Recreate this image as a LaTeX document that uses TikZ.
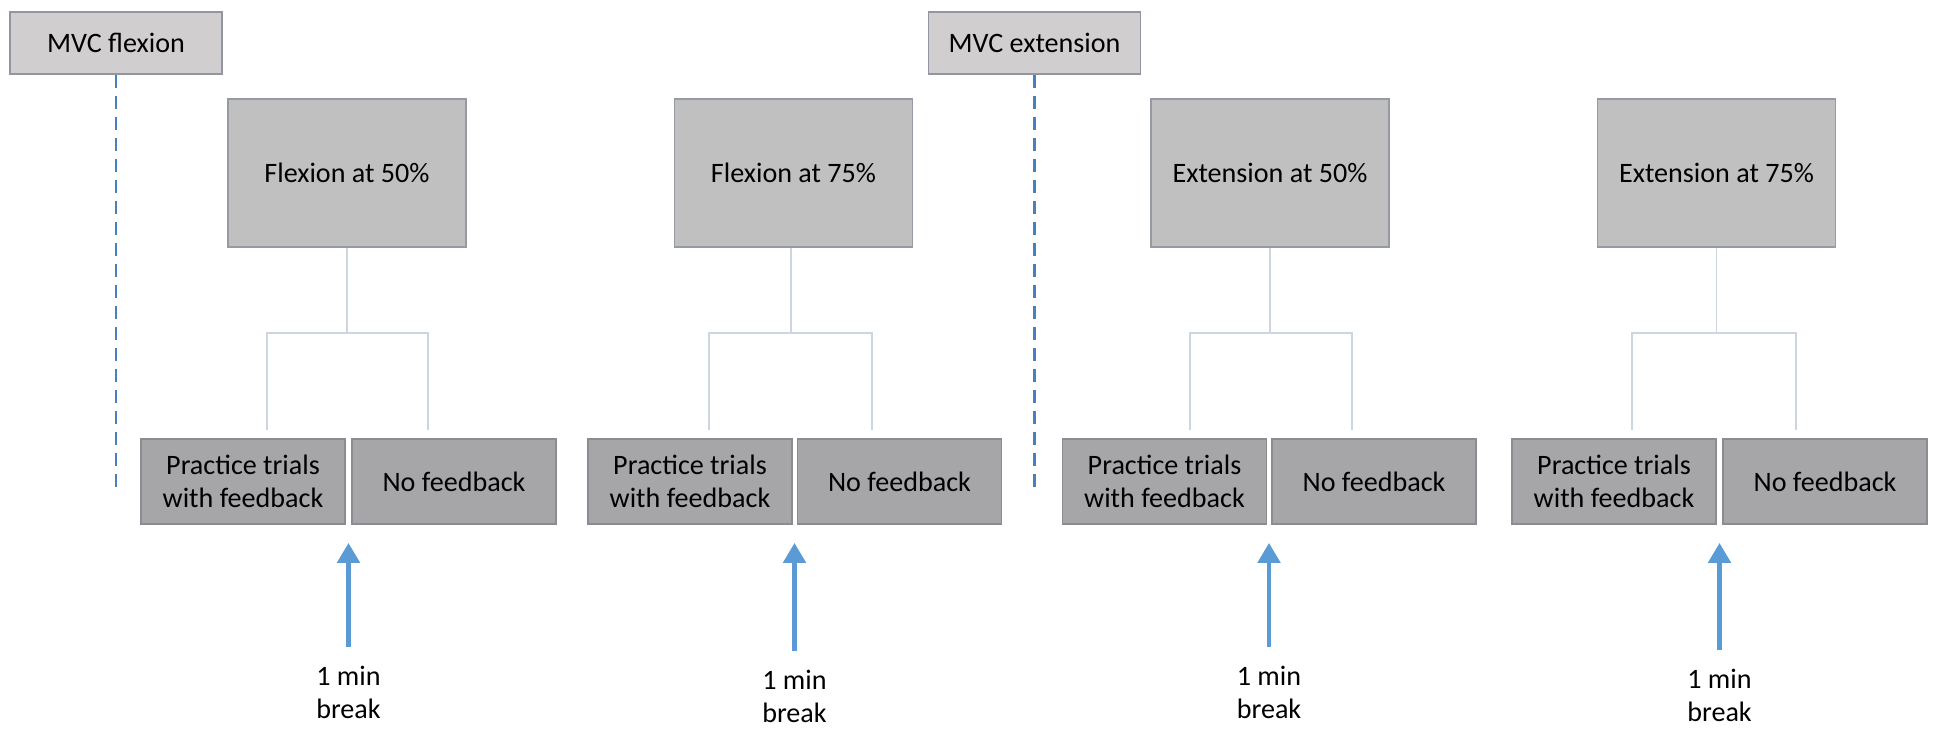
\documentclass[tikz,border=0pt]{standalone}
\usepackage{fontspec}
\setmainfont{Carlito}
\usepackage{tikz}
\usepackage{xcolor}
\usetikzlibrary{arrows.meta}

\definecolor{mvcgray}{RGB}{208,206,207}
\definecolor{mvcline}{RGB}{145,150,162}
\definecolor{topgray}{RGB}{192,192,193}
\definecolor{topline}{RGB}{150,154,162}
\definecolor{subgray}{RGB}{166,166,168}
\definecolor{subline}{RGB}{138,140,146}
\definecolor{linkgray}{RGB}{205,213,225}
\definecolor{dashblue}{RGB}{70,128,192}
\definecolor{arrowblue}{RGB}{91,155,213}

\tikzset{
  mvcbox/.style={draw=mvcline,fill=mvcgray,line width=1pt,minimum width=4.24cm,minimum height=1.24cm,inner sep=0pt},
  topbox/.style={draw=topline,fill=topgray,line width=1pt,minimum width=4.76cm,minimum height=2.96cm,inner sep=0pt},
  subbox/.style={draw=subline,fill=subgray,line width=1pt,minimum width=4.08cm,minimum height=1.7cm,inner sep=0pt,align=center},
  breaktext/.style={align=center,inner sep=0pt},
  link/.style={draw=linkgray,line width=1pt},
  dashline/.style={draw=dashblue,line width=1.6pt,dash pattern=on 0.26cm off 0.16cm},
  breakarrow/.style={draw=arrowblue,line width=2.8pt,-{Triangle[length=0.4cm,width=0.44cm]},shorten <=0.38cm,shorten >=0.36cm}
}

\begin{document}
\begin{tikzpicture}[x=0.02cm,y=-0.02cm,font=\fontsize{16}{18.7}\selectfont]
            \useasboundingbox (0,0) rectangle (1933,729);

            % MVC boxes and dashed markers
            \node[mvcbox] (mvcf) at (116,43){MVC flexion};
            \node[mvcbox] (mvce) at (1034.5,43){MVC extension};
            \coordinate (mvcfend) at (116,493);
            \coordinate (mvceend) at (1034.5,493);
            \draw[dashline] (mvcf.south) -- (mvcfend);
            \draw[dashline] (mvce.south) -- (mvceend);

            % flexion at 50%
            \node[topbox] (f50) at (347,173){Flexion at 50\%};
            \node[subbox] (f50p) at (243,481.5){Practice trials\\with feedback};
            \node[subbox] (f50n) at (454,481.5){No feedback};
            \coordinate (f50fork) at (347,333);
            \coordinate (f50a) at (267,430);
            \coordinate (f50b) at (428,430);
            \draw[link] (f50.south) -- (f50fork);
            \draw[link] (f50a) |- (f50fork) -| (f50b);
            \node[breaktext,anchor=north] (f50brk) at (348.5,666){1 min\\break};
            \draw[breakarrow] (f50brk.north) -- (f50brk.north |- f50p.south);

            % flexion at 75%
            \node[topbox] (f75) at (793.5,173){Flexion at 75\%};
            \node[subbox] (f75p) at (690,481.5){Practice trials\\with feedback};
            \node[subbox] (f75n) at (899.5,481.5){No feedback};
            \coordinate (f75fork) at (791,333);
            \coordinate (f75a) at (709,430);
            \coordinate (f75b) at (872,430);
            \draw[link] (f75.south -| f75fork) -- (f75fork);
            \draw[link] (f75a) |- (f75fork) -| (f75b);
            \node[breaktext,anchor=north] (f75brk) at (794.5,670){1 min\\break};
            \draw[breakarrow] (f75brk.north) -- (f75brk.north |- f75p.south);

            % extension at 50%
            \node[topbox] (e50) at (1270,173){Extension at 50\%};
            \node[subbox] (e50p) at (1164.5,481.5){Practice trials\\with feedback};
            \node[subbox] (e50n) at (1374,481.5){No feedback};
            \coordinate (e50fork) at (1270,333);
            \coordinate (e50a) at (1190,430);
            \coordinate (e50b) at (1352,430);
            \draw[link] (e50.south) -- (e50fork);
            \draw[link] (e50a) |- (e50fork) -| (e50b);
            \node[breaktext,anchor=north] (e50brk) at (1269,666){1 min\\break};
            \draw[breakarrow] (e50brk.north) -- (e50brk.north |- e50p.south);

            % extension at 75%
            \node[topbox] (e75) at (1716.5,173){Extension at 75\%};
            \node[subbox] (e75p) at (1614,481.5){Practice trials\\with feedback};
            \node[subbox] (e75n) at (1825,481.5){No feedback};
            \coordinate (e75fork) at (1716.5,333);
            \coordinate (e75a) at (1632,430);
            \coordinate (e75b) at (1796,430);
            \draw[link] (e75.south) -- (e75fork);
            \draw[link] (e75a) |- (e75fork) -| (e75b);
            \node[breaktext,anchor=north] (e75brk) at (1719.5,669){1 min\\break};
            \draw[breakarrow] (e75brk.north) -- (e75brk.north |- e75p.south);
        \end{tikzpicture}
\end{document}
